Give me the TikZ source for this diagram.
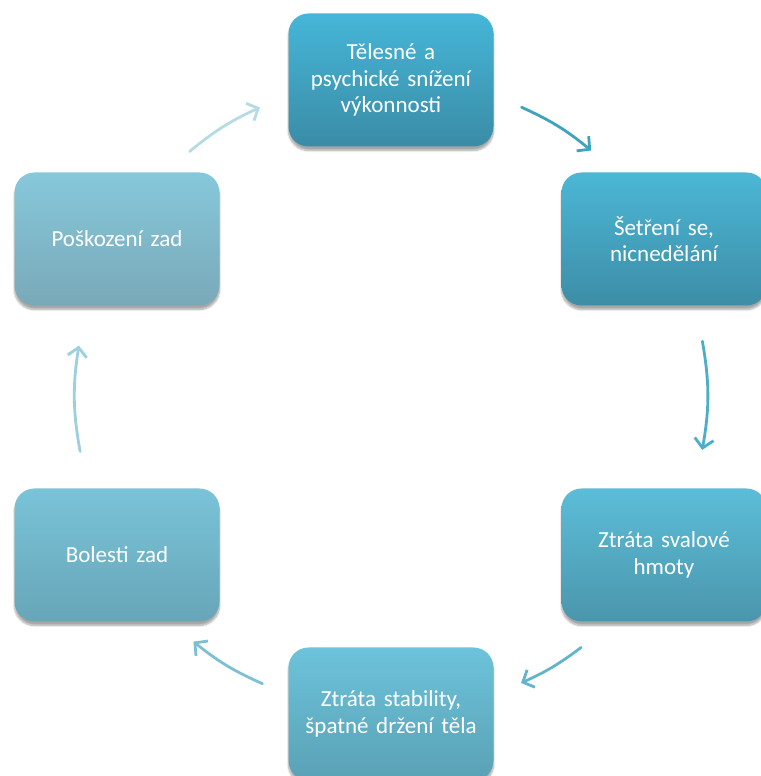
\documentclass[tikz,border=0pt]{standalone}
\usepackage{fontspec}
\setmainfont{Carlito}
\usetikzlibrary{arrows.meta,shadows.blur}

\definecolor{telTop}{HTML}{46B6D8}
\definecolor{telBot}{HTML}{3A8CA6}
\definecolor{setTop}{HTML}{4BB7D6}
\definecolor{setBot}{HTML}{3D8DA6}
\definecolor{ztrTop}{HTML}{5CBDD8}
\definecolor{ztrBot}{HTML}{4A96AC}
\definecolor{stabTop}{HTML}{6CC3DB}
\definecolor{stabBot}{HTML}{5AA1B5}
\definecolor{bolTop}{HTML}{7AC3D8}
\definecolor{bolBot}{HTML}{67A6B8}
\definecolor{poskTop}{HTML}{86C8DB}
\definecolor{poskBot}{HTML}{79A9B8}
\definecolor{arcA}{HTML}{3FA3BF}
\definecolor{arcB}{HTML}{4CAEC8}
\definecolor{arcC}{HTML}{62B5CB}
\definecolor{arcD}{HTML}{7DC0D3}
\definecolor{arcE}{HTML}{9DCFDD}
\definecolor{arcF}{HTML}{B6DBE5}

\begin{document}
\begin{tikzpicture}[x=1pt,y=1pt,
                    box/.style={rounded corners=20pt,minimum width=205pt,minimum height=133pt,
                                text width=195pt,align=center,text=white,
                                font=\fontsize{23}{26.5}\selectfont,
                                blur shadow={shadow xshift=0pt,shadow yshift=-4pt,
                                             shadow blur steps=8,shadow opacity=35}},
                    cyc/.style={-{Straight Barb[length=9pt,width=19pt]},line width=2.8pt,
                                line cap=round}]

  \useasboundingbox (0,0) rectangle (760,776);
  \coordinate (C) at (391,381);

  \node[box,top color=telTop,bottom color=telBot]   (tel)  at (391,696) {Tělesné a\\psychické snížení\\výkonnosti};
  \node[box,top color=setTop,bottom color=setBot]   (setr) at (664,537) {Šetření se,\\nicnedělání};
  \node[box,top color=ztrTop,bottom color=ztrBot]   (ztr)  at (664,221) {Ztráta svalové\\hmoty};
  \node[box,top color=stabTop,bottom color=stabBot] (stab) at (391,62)  {Ztráta stability,\\špatné držení těla};
  \node[box,top color=bolTop,bottom color=bolBot]   (bol)  at (117,221) {Bolesti zad};
  \node[box,top color=poskTop,bottom color=poskBot] (posk) at (117,537) {Poškození zad};

  \coordinate (a1) at ([shift={(65.6:316)}]C);
  \coordinate (b1) at ([shift={(50.7:316)}]C);
  \coordinate (a2) at ([shift={(9.8:316)}]C);
  \coordinate (b2) at ([shift={(-10:316)}]C);
  \coordinate (a3) at ([shift={(-53:316)}]C);
  \coordinate (b3) at ([shift={(-65.7:316)}]C);
  \coordinate (a4) at ([shift={(-114:316)}]C);
  \coordinate (b4) at ([shift={(-128.7:316)}]C);
  \coordinate (a5) at ([shift={(190.3:316)}]C);
  \coordinate (b5) at ([shift={(171:316)}]C);
  \coordinate (a6) at ([shift={(129.6:316)}]C);
  \coordinate (b6) at ([shift={(114.5:316)}]C);

  \path (a1) edge[cyc,draw=arcA,bend left=7.5] (b1)
        (a2) edge[cyc,draw=arcB,bend left=10]  (b2)
        (a3) edge[cyc,draw=arcC,bend left=6.5] (b3)
        (a4) edge[cyc,draw=arcD,bend left=7.5] (b4)
        (a5) edge[cyc,draw=arcE,bend left=9.5] (b5)
        (a6) edge[cyc,draw=arcF,bend left=7.5] (b6);
\end{tikzpicture}
\end{document}
